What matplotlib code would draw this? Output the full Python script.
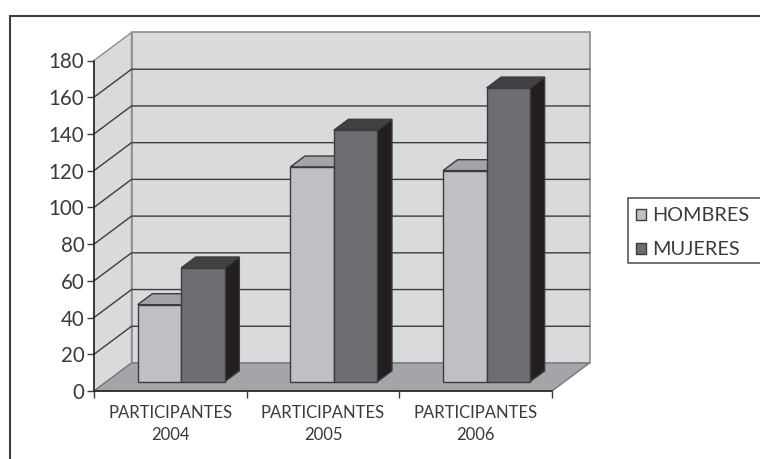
import matplotlib
matplotlib.use('Agg')
import matplotlib.pyplot as plt
from matplotlib.patches import Patch, Polygon, Rectangle

categories = ['PARTICIPANTES\n2004', 'PARTICIPANTES\n2005', 'PARTICIPANTES\n2006']
hombres = [42, 117, 115]
mujeres = [62, 137, 160]
y_ticks = [0, 20, 40, 60, 80, 100, 120, 140, 160, 180]

W, H = 760, 459
LINE = '#3c3c3e'
TEXT = '#3a3a3c'
WALL = '#d9dadc'
FLOOR = '#a4a5a8'

plt.rcParams['font.family'] = ['Lato', 'DejaVu Sans']

fig = plt.figure(figsize=(W / 100, H / 100), dpi=100)

# axes box is the front plane of the 3d chart
left, right, bottom, top = 94, 552, 391, 60.5
ax = fig.add_axes([left / W, 1 - bottom / H, (right - left) / W, (bottom - top) / H])
ax.set_xlim(0, 3)
ax.set_ylim(0, 180)
ax.patch.set_visible(False)

px_x = 3 / (right - left)
px_y = 180 / (bottom - top)


def project(x, y, depth, dx=37.5, dy=28):
    # depth 0 is the front plane, depth 1 is the back wall
    return x + depth * dx * px_x, y + depth * dy * px_y


def quad(points, color, edge=LINE, lw=1.0, z=2):
    ax.add_patch(Polygon(points, closed=True, facecolor=color, edgecolor=edge,
                         linewidth=lw, clip_on=False, zorder=z, joinstyle='miter'))


# walls and floor
quad([project(0, 0, 0), project(0, 0, 1), project(0, 180, 1), project(0, 180, 0)], WALL, '#8c8d8f', 1.0)
quad([project(0, 0, 1), project(3, 0, 1), project(3, 180, 1), project(0, 180, 1)], WALL, '#8c8d8f', 1.2)
quad([project(0, 0, 0), project(3, 0, 0), project(3, 0, 1), project(0, 0, 1)], FLOOR, '#77787a', 1.0)

for v in y_ticks[1:-1]:
    xs, ys = zip(project(0, v, 0), project(0, v, 1), project(3, v, 1))
    ax.plot(xs, ys, color=LINE, lw=1.0, clip_on=False, zorder=3, solid_joinstyle='miter')


def bar_3d(x0, width, value, front, side, roof):
    d0, d1 = 0.33, 0.72
    quad([project(x0 + width, 0, d0), project(x0 + width, 0, d1),
          project(x0 + width, value, d1), project(x0 + width, value, d0)], side, z=4)
    quad([project(x0, value, d0), project(x0 + width, value, d0),
          project(x0 + width, value, d1), project(x0, value, d1)], roof, z=4)
    quad([project(x0, 0, d0), project(x0 + width, 0, d0),
          project(x0 + width, value, d0), project(x0, value, d0)], front, z=5)


bar_w = 0.285
for i, (h, m) in enumerate(zip(hombres, mujeres)):
    center = i + 0.49
    bar_3d(center - bar_w, bar_w, h, '#bfc0c3', '#8f9093', '#a3a4a7')
    bar_3d(center, bar_w, m, '#6d6e71', '#231f20', '#414042')

# front axes
for name in ['top', 'right']:
    ax.spines[name].set_visible(False)
for name in ['left', 'bottom']:
    ax.spines[name].set_color('#1f1f20')
    ax.spines[name].set_linewidth(1.1)
    ax.spines[name].set_zorder(6)
ax.set_yticks(y_ticks)
ax.tick_params(axis='y', length=5, width=1, color=LINE, labelsize=14.8, labelcolor=TEXT, pad=2)
ax.set_xticks([0, 1, 2, 3])
ax.set_xticklabels([])
ax.set_xticks([0.5, 1.5, 2.5], labels=categories, minor=True)
ax.tick_params(axis='x', which='major', length=5, width=1, color=LINE)
ax.tick_params(axis='x', which='minor', length=0, labelsize=12, labelcolor=TEXT, pad=10)
for label in ax.get_xticklabels(minor=True):
    label.set_linespacing(1.5)

# legend box runs off the right edge, so its frame is drawn separately
fig.add_artist(Rectangle((628 / W, 1 - 262.7 / H), 140 / W, 64.7 / H, transform=fig.transFigure,
                         facecolor='white', edgecolor='#4a4a4c', linewidth=1.1))
handles = [Patch(facecolor='#bfc0c3', edgecolor=LINE, label='HOMBRES'),
           Patch(facecolor='#6d6e71', edgecolor=LINE, label='MUJERES')]
leg = fig.legend(handles=handles, loc='upper left', bbox_to_anchor=(628 / W, 1 - 199 / H),
                 bbox_transform=fig.transFigure, borderaxespad=0, fontsize=14.3,
                 handlelength=0.5, handleheight=0.5, handletextpad=0.3,
                 labelspacing=0.85, borderpad=0.42, fancybox=False, labelcolor=TEXT,
                 frameon=False)

# outer frame runs past the right and bottom edges
fig.add_artist(Rectangle((10 / W, -0.02), 1, 1 - 16 / H + 0.02, transform=fig.transFigure,
                         facecolor='none', edgecolor='#3f3f41', linewidth=1.5))

fig.savefig('out.png', dpi=100)
